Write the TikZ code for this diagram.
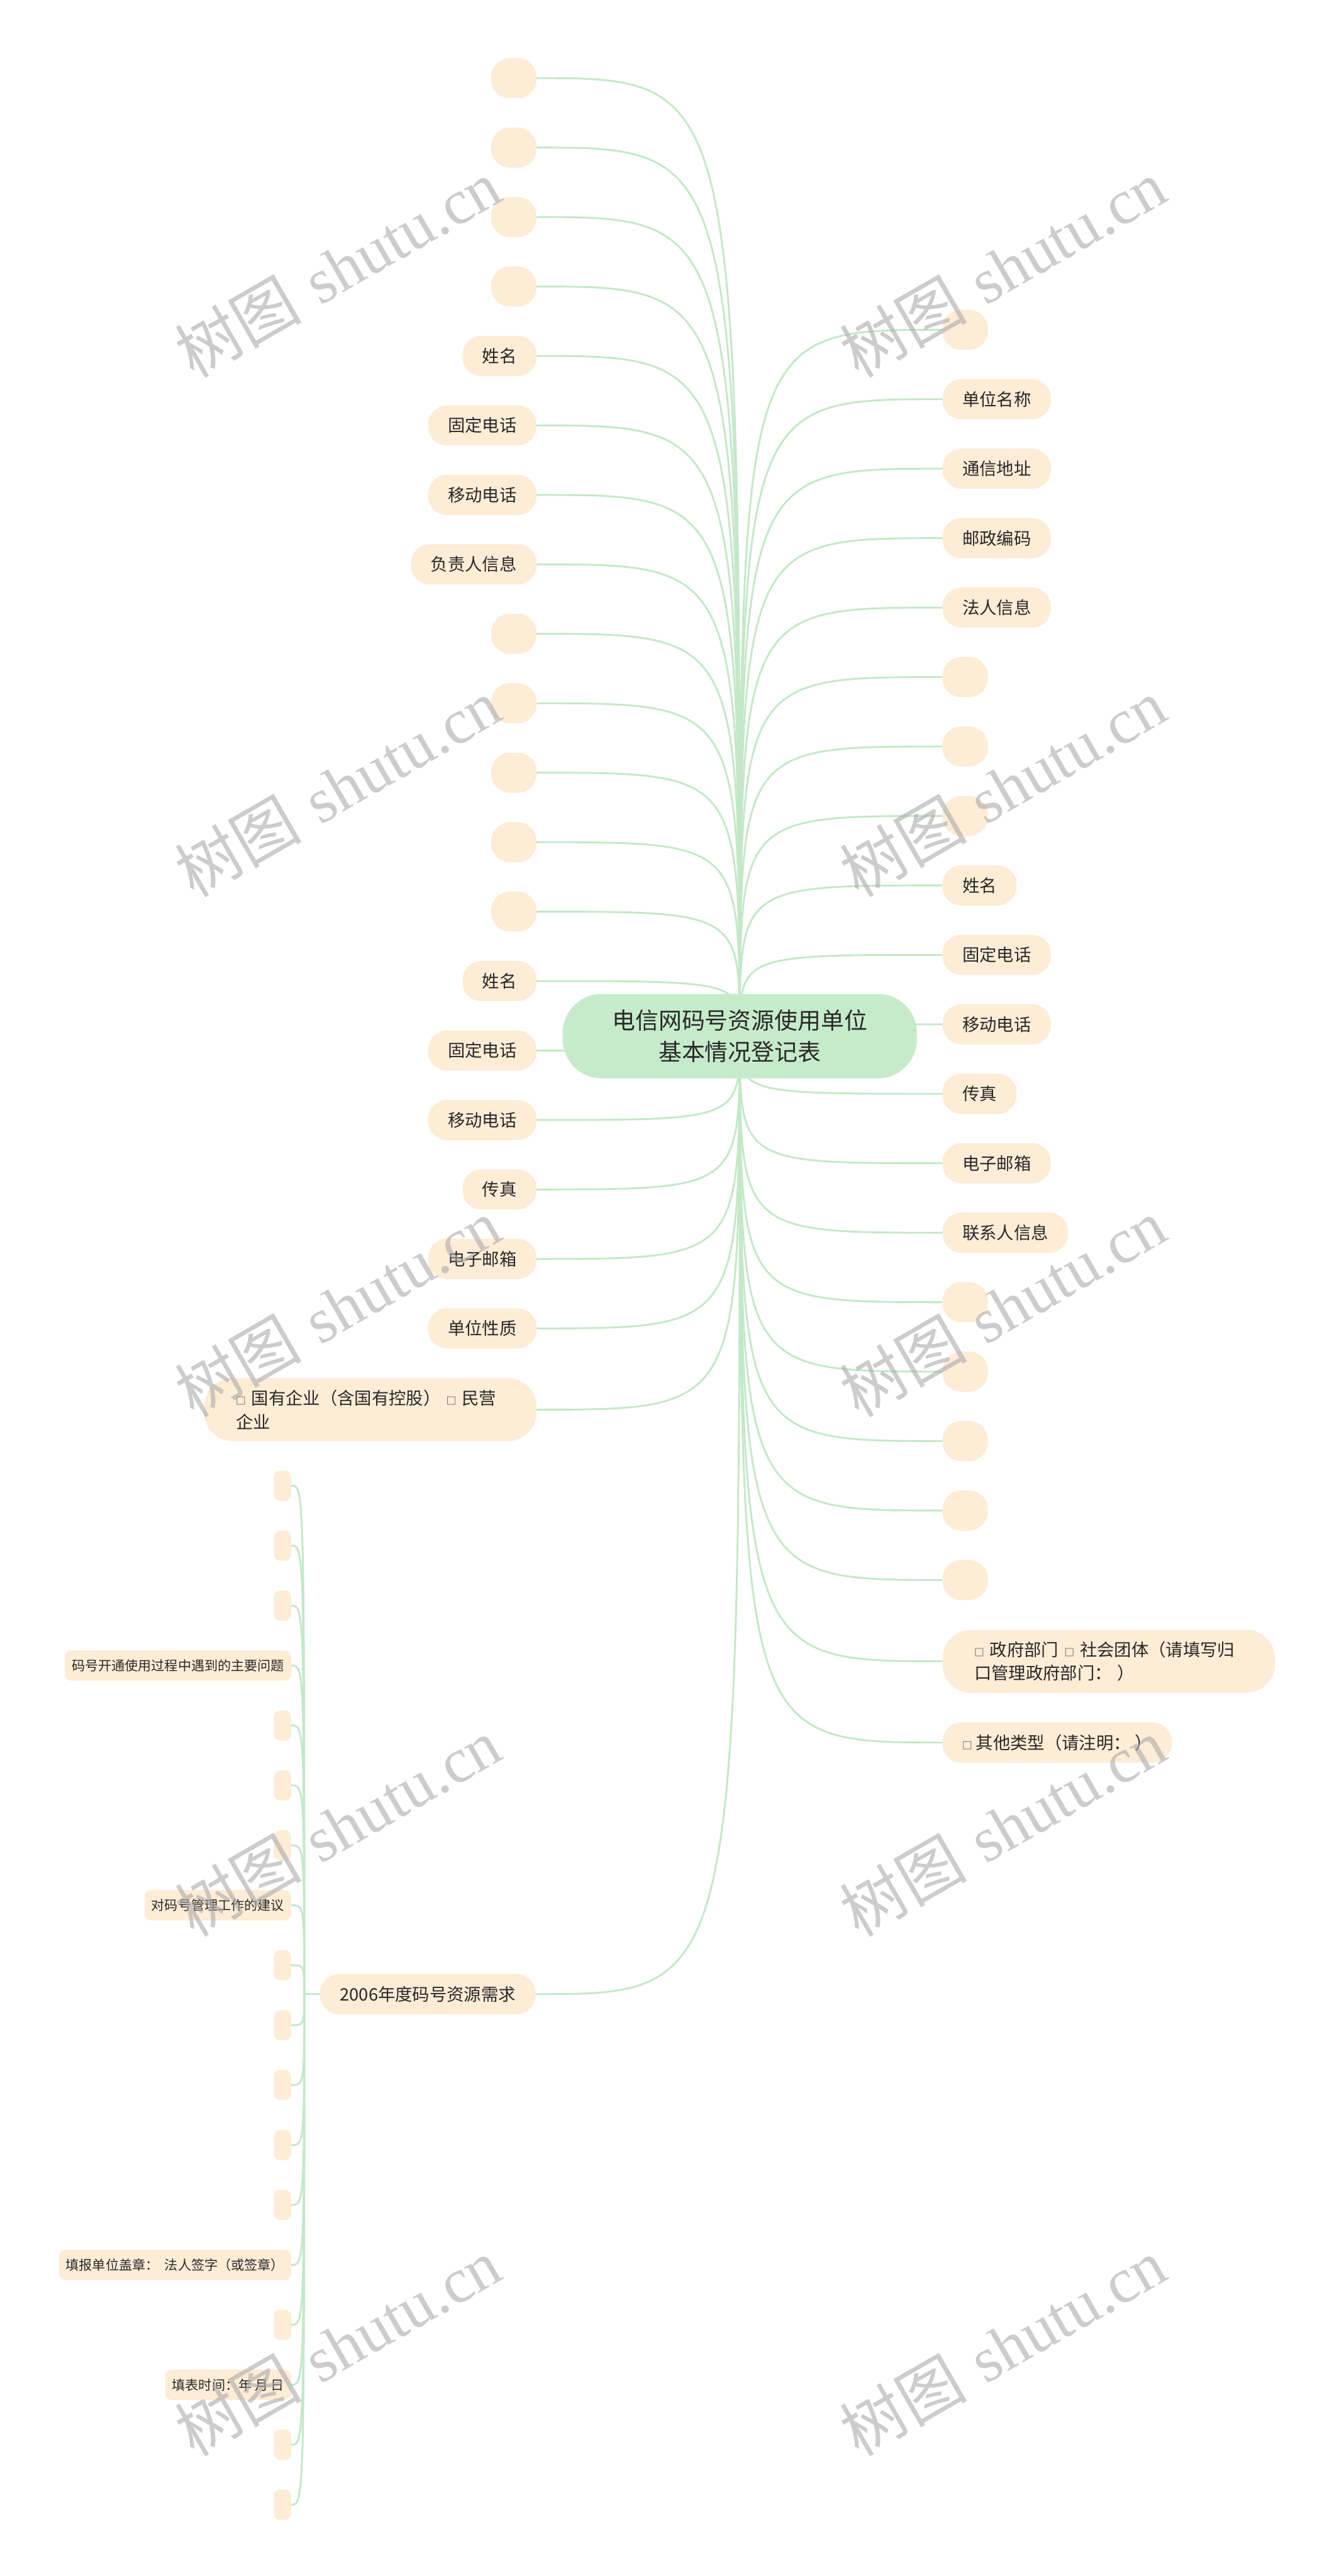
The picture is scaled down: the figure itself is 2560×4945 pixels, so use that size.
\documentclass[tikz,border=0pt]{standalone}
\usepackage{fontspec}
\newfontfamily\cjk{Noto Sans CJK SC}
\newfontfamily\wmlatin{Liberation Serif}
\definecolor{nodefill}{RGB}{253,236,214}
\definecolor{rootfill}{RGB}{198,235,203}
\definecolor{linec}{RGB}{195,232,199}
\definecolor{txt}{RGB}{40,40,40}
\definecolor{wmc}{RGB}{170,170,170}
\newcommand\mysq{{\fontsize{19}{19}\selectfont □}}
\pgfdeclarelayer{edges}
\pgfdeclarelayer{wm}
\pgfsetlayers{edges,main,wm}
\tikzset{
  leafbox/.style={fill=nodefill, rounded corners=36pt, minimum height=77pt, minimum width=87pt,
    inner xsep=38pt, inner ysep=0pt, text=txt, font=\cjk\fontsize{33}{40}\selectfont},
  bigbox/.style={fill=nodefill, rounded corners=55pt, minimum height=121pt, text width=516pt,
    align=left, inner xsep=61pt, inner ysep=0pt, text=txt, font=\cjk\fontsize{33}{45}\selectfont},
  smallbox/.style={fill=nodefill, rounded corners=12pt, minimum height=58pt, minimum width=33pt,
    inner xsep=13pt, inner ysep=0pt, text=txt, font=\cjk\fontsize{25.5}{30}\selectfont},
  rootbox/.style={fill=rootfill, rounded corners=75pt, minimum width=680pt, minimum height=162pt,
    align=center, text=txt, font=\cjk\fontsize{44.5}{60}\selectfont},
  link/.style={draw=linec, line width=3.5pt},
  wmark/.style={rotate=30, text=wmc, opacity=0.6, font=\fontsize{122}{130}\selectfont}
}
\begin{document}
\begin{tikzpicture}[x=1pt,y=-1pt]
\useasboundingbox (0,0) rectangle (2560,4945);
\begin{pgfonlayer}{edges}
\fill[white] (0,0) rectangle (2560,4945);
\end{pgfonlayer}

% root
\node[rootbox] (root) at (1420,1989) {电信网码号资源使用单位\\基本情况登记表};

% left column
\node[leafbox, anchor=east] (L1) at (1030,150) {};
\node[leafbox, anchor=east] (L2) at (1030,283.3) {};
\node[leafbox, anchor=east] (L3) at (1030,416.7) {};
\node[leafbox, anchor=east] (L4) at (1030,550) {};
\node[leafbox, anchor=east] (L5) at (1030,683.3) {姓名};
\node[leafbox, anchor=east] (L6) at (1030,816.7) {固定电话};
\node[leafbox, anchor=east] (L7) at (1030,950) {移动电话};
\node[leafbox, anchor=east] (L8) at (1030,1083.3) {负责人信息};
\node[leafbox, anchor=east] (L9) at (1030,1216.7) {};
\node[leafbox, anchor=east] (L10) at (1030,1350) {};
\node[leafbox, anchor=east] (L11) at (1030,1483.3) {};
\node[leafbox, anchor=east] (L12) at (1030,1616.7) {};
\node[leafbox, anchor=east] (L13) at (1030,1750) {};
\node[leafbox, anchor=east] (L14) at (1030,1883.3) {姓名};
\node[leafbox, anchor=east] (L15) at (1030,2016.7) {固定电话};
\node[leafbox, anchor=east] (L16) at (1030,2150) {移动电话};
\node[leafbox, anchor=east] (L17) at (1030,2283.3) {传真};
\node[leafbox, anchor=east] (L18) at (1030,2416.7) {电子邮箱};
\node[leafbox, anchor=east] (L19) at (1030,2550) {单位性质};
\node[bigbox, anchor=east] (LB) at (1030,2706) {\mysq{} 国有企业（含国有控股） \mysq{} 民营\\企业};
\node[leafbox, anchor=east] (N2006) at (1028,3828) {2006年度码号资源需求};

% right column
\node[leafbox, anchor=west] (R1) at (1809,633) {};
\node[leafbox, anchor=west] (R2) at (1809,766.3) {单位名称};
\node[leafbox, anchor=west] (R3) at (1809,899.7) {通信地址};
\node[leafbox, anchor=west] (R4) at (1809,1033) {邮政编码};
\node[leafbox, anchor=west] (R5) at (1809,1166.3) {法人信息};
\node[leafbox, anchor=west] (R6) at (1809,1299.7) {};
\node[leafbox, anchor=west] (R7) at (1809,1433) {};
\node[leafbox, anchor=west] (R8) at (1809,1566.3) {};
\node[leafbox, anchor=west] (R9) at (1809,1699.7) {姓名};
\node[leafbox, anchor=west] (R10) at (1809,1833) {固定电话};
\node[leafbox, anchor=west] (R11) at (1809,1966.3) {移动电话};
\node[leafbox, anchor=west] (R12) at (1809,2099.7) {传真};
\node[leafbox, anchor=west] (R13) at (1809,2233) {电子邮箱};
\node[leafbox, anchor=west] (R14) at (1809,2366.3) {联系人信息};
\node[leafbox, anchor=west] (R15) at (1809,2499.7) {};
\node[leafbox, anchor=west] (R16) at (1809,2633) {};
\node[leafbox, anchor=west] (R17) at (1809,2766.3) {};
\node[leafbox, anchor=west] (R18) at (1809,2899.7) {};
\node[leafbox, anchor=west] (R19) at (1809,3033) {};
\node[bigbox, anchor=west] (RB) at (1809,3189) {\mysq{} 政府部门 \mysq{} 社会团体（请填写归\\口管理政府部门：\ ）};
\node[leafbox, anchor=west] (RO) at (1809,3345) {\mysq{} 其他类型（请注明：\ ）};

% children of 2006
\node[smallbox, anchor=east] (S1) at (559,2852) {};
\node[smallbox, anchor=east] (S2) at (559,2967.1) {};
\node[smallbox, anchor=east] (S3) at (559,3082.1) {};
\node[smallbox, anchor=east] (S4) at (559,3197.2) {码号开通使用过程中遇到的主要问题};
\node[smallbox, anchor=east] (S5) at (559,3312.2) {};
\node[smallbox, anchor=east] (S6) at (559,3427.3) {};
\node[smallbox, anchor=east] (S7) at (559,3542.4) {};
\node[smallbox, anchor=east] (S8) at (559,3657.4) {对码号管理工作的建议};
\node[smallbox, anchor=east] (S9) at (559,3772.5) {};
\node[smallbox, anchor=east] (S10) at (559,3887.5) {};
\node[smallbox, anchor=east] (S11) at (559,4002.6) {};
\node[smallbox, anchor=east] (S12) at (559,4117.7) {};
\node[smallbox, anchor=east] (S13) at (559,4232.7) {};
\node[smallbox, anchor=east] (S14) at (559,4347.8) {填报单位盖章：\ \ 法人签字（或签章）};
\node[smallbox, anchor=east] (S15) at (559,4462.8) {};
\node[smallbox, anchor=east] (S16) at (559,4577.9) {填表时间：年\ 月\ 日};
\node[smallbox, anchor=east] (S17) at (559,4692.9) {};
\node[smallbox, anchor=east] (S18) at (559,4808) {};
\coordinate (hub) at (584,3828);

% connectors
\begin{pgfonlayer}{edges}
\foreach \i in {1,...,19} {
  \draw[link] (root.center) .. controls (root.center |- L\i.east) .. (L\i.east);
  \draw[link] (root.center) .. controls (root.center |- R\i.west) .. (R\i.west);
}
\draw[link] (root.center) .. controls (root.center |- LB.east) .. (LB.east);
\draw[link] (root.center) .. controls (root.center |- N2006.east) .. (N2006.east);
\draw[link] (root.center) .. controls (root.center |- RB.west) .. (RB.west);
\draw[link] (root.center) .. controls (root.center |- RO.west) .. (RO.west);
\draw[link] (N2006.west) -- (hub);
\foreach \i in {1,...,18} {
  \draw[link] (hub) .. controls (hub |- S\i.east) .. (S\i.east);
}
\end{pgfonlayer}

% watermarks
\begin{pgfonlayer}{wm}
\foreach \n/\x/\y in {w1/648/515, w2/1925/515, w3/648/1512, w4/1925/1512, w5/648/2510, w6/1925/2510, w7/648/3507, w8/1925/3507, w9/648/4505, w10/1925/4505} {
  \node[wmark] (\n) at (\x,\y) {{\cjk 树图} {\wmlatin shutu.cn}};
}
\end{pgfonlayer}
\end{tikzpicture}
\end{document}
